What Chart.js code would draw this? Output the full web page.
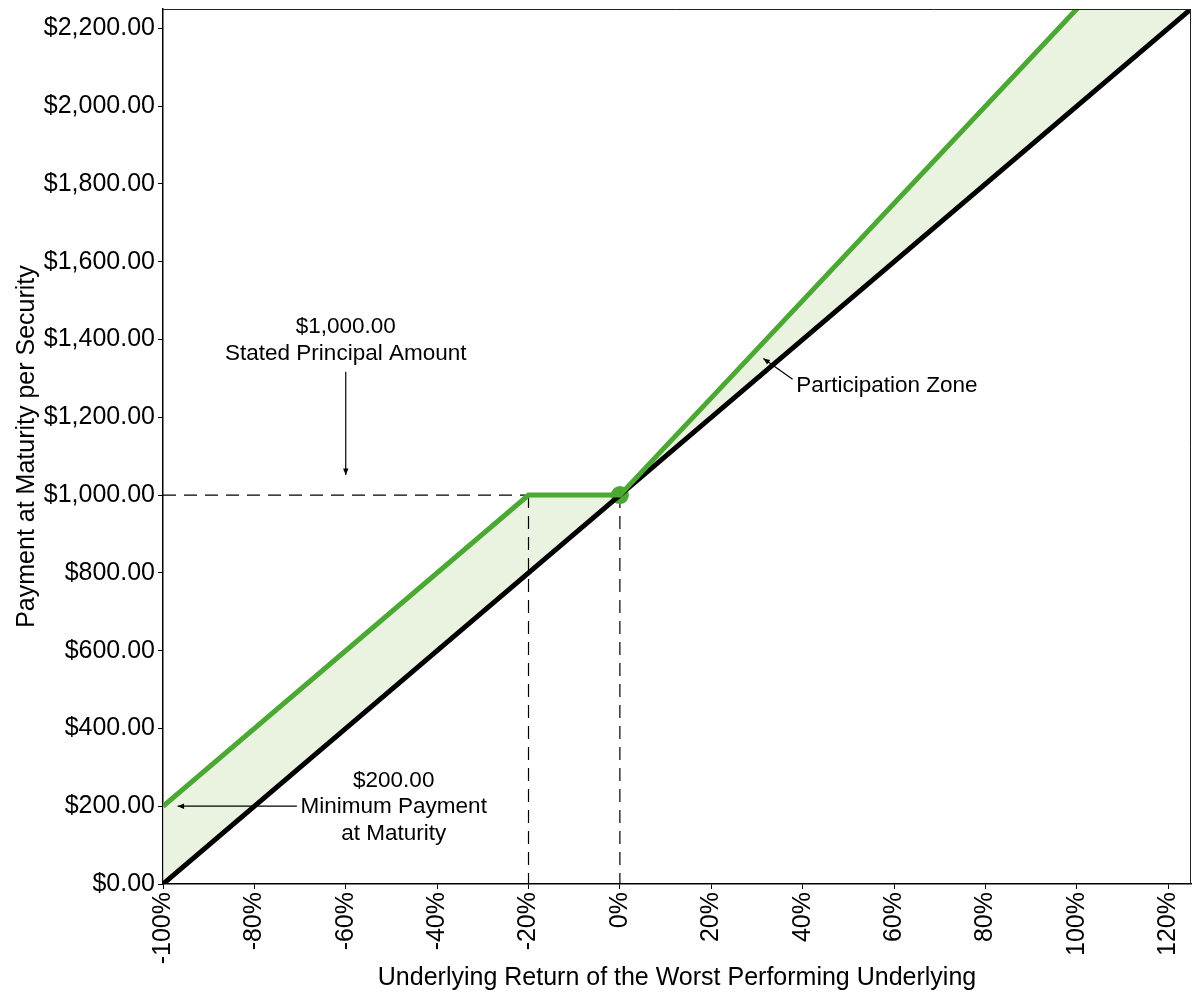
<!DOCTYPE html>
<html>
<head>
<meta charset="utf-8">
<script src="https://cdn.jsdelivr.net/npm/chart.js@4"></script>
<style>
  html, body { margin: 0; padding: 0; background: #fff; }
  #wrap { width: 1200px; height: 1000px; }
</style>
</head>
<body>
<div id="wrap"><canvas id="payoff"></canvas></div>
<script>
// underlying return (%) at the kinks of the payoff
const returnPts = [-100, -20, 0, 125];
// payment at maturity on the securities
const notePayment = [200, 1000, 1000, 2562.5];
// direct investment in the underlying
const underlyingPayment = [0, 800, 1000, 2250];
// guides
const principal = 1000;
const bufferReturn = -20;
const startReturn = 0;

const GREEN = '#4aa833';
const FILL = 'rgba(222,236,208,0.65)';

const toXY = (xs, ys) => xs.map((x, i) => ({ x: x, y: ys[i] }));

// text / arrow annotations (data coordinates)
const notes = [
  { lines: ['$1,000.00', 'Stated Principal Amount'], x: -60, y: 1432, align: 'center' },
  { lines: ['$200.00', 'Minimum Payment', 'at Maturity'], x: -49.5, y: 266, align: 'center' },
  { lines: ['Participation Zone'], x: 38.6, y: 1281, align: 'left' }
];
const arrows = [
  { from: [-60, 1317], to: [-60, 1052] },
  { from: [-70.7, 200], to: [-96.8, 200] },
  { from: [37.8, 1298], to: [31.4, 1351] }
];

const annotate = {
  id: 'annotate',
  afterDraw(chart) {
    const { ctx, chartArea: a, scales: { x, y } } = chart;
    ctx.save();
    // box round the plot
    ctx.strokeStyle = '#222';
    ctx.lineWidth = 1;
    ctx.beginPath();
    ctx.moveTo(a.left, a.top + 0.5);
    ctx.lineTo(a.right - 0.5, a.top + 0.5);
    ctx.lineTo(a.right - 0.5, a.bottom);
    ctx.stroke();

    ctx.fillStyle = '#000';
    ctx.font = '22.5px "Liberation Sans", Arial, sans-serif';
    ctx.textBaseline = 'middle';
    notes.forEach(n => {
      ctx.textAlign = n.align;
      n.lines.forEach((t, i) => {
        ctx.fillText(t, x.getPixelForValue(n.x), y.getPixelForValue(n.y) + i * 26.5);
      });
    });

    ctx.strokeStyle = '#000';
    ctx.lineWidth = 1.2;
    arrows.forEach(ar => {
      const x1 = x.getPixelForValue(ar.from[0]), y1 = y.getPixelForValue(ar.from[1]);
      const x2 = x.getPixelForValue(ar.to[0]), y2 = y.getPixelForValue(ar.to[1]);
      const ang = Math.atan2(y2 - y1, x2 - x1);
      ctx.beginPath();
      ctx.moveTo(x1, y1);
      ctx.lineTo(x2, y2);
      ctx.stroke();
      ctx.beginPath();
      ctx.moveTo(x2, y2);
      ctx.lineTo(x2 - 7 * Math.cos(ang - 0.4), y2 - 7 * Math.sin(ang - 0.4));
      ctx.lineTo(x2 - 7 * Math.cos(ang + 0.4), y2 - 7 * Math.sin(ang + 0.4));
      ctx.closePath();
      ctx.fill();
    });
    ctx.restore();
  }
};

const dashed = {
  borderColor: '#000',
  borderWidth: 1.2,
  borderDash: [13, 8],
  pointRadius: 0,
  fill: false
};

Chart.defaults.font.family = '"Liberation Sans", Arial, sans-serif';
Chart.defaults.color = '#000';

const noPad = s => { s.paddingTop = 0; s.paddingBottom = 0; s.paddingLeft = 0; s.paddingRight = 0; };

new Chart(document.getElementById('payoff'), {
  type: 'line',
  data: {
    datasets: [
      {
        label: 'Securities',
        data: toXY(returnPts, notePayment),
        borderColor: GREEN,
        borderWidth: 5,
        pointRadius: 0,
        fill: { target: 1 },
        backgroundColor: FILL,
        clip: 0
      },
      {
        label: 'Underlying',
        data: toXY(returnPts, underlyingPayment),
        borderColor: '#000',
        borderWidth: 5,
        pointRadius: 0,
        fill: false,
        clip: 0
      },
      {
        label: 'Start',
        data: [{ x: startReturn, y: principal }],
        pointRadius: 9,
        pointBackgroundColor: GREEN,
        pointBorderWidth: 0,
        showLine: false
      },
      Object.assign({ data: [{ x: returnPts[0], y: principal }, { x: bufferReturn, y: principal }] }, dashed),
      Object.assign({ data: [{ x: bufferReturn, y: principal }, { x: bufferReturn, y: 0 }] }, dashed),
      Object.assign({ data: [{ x: startReturn, y: principal }, { x: startReturn, y: 0 }] }, dashed)
    ]
  },
  options: {
    responsive: true,
    maintainAspectRatio: false,
    animation: false,
    layout: { padding: { top: 6, right: 8, left: 0, bottom: 0 } },
    plugins: {
      legend: { display: false },
      tooltip: { enabled: false },
      filler: { drawTime: 'beforeDatasetsDraw' }
    },
    scales: {
      x: {
        type: 'linear',
        min: -100,
        max: 125,
        offset: false,
        grid: { drawOnChartArea: false, drawTicks: true, tickLength: 5, color: '#000' },
        border: { display: true, color: '#000', width: 1.5 },
        ticks: {
          stepSize: 20,
          includeBounds: false,
          minRotation: 90,
          maxRotation: 90,
          padding: 3,
          font: { size: 25 },
          callback: v => v + '%'
        },
        title: {
          display: true,
          text: 'Underlying Return of the Worst Performing Underlying',
          font: { size: 25 },
          padding: { top: 0, bottom: 7 }
        },
        afterFit: s => { s.height = 116; noPad(s); }
      },
      y: {
        min: 0,
        max: 2250,
        grid: { drawOnChartArea: false, drawTicks: true, tickLength: 5, color: '#000' },
        border: { display: true, color: '#000', width: 1.5 },
        ticks: {
          stepSize: 200,
          includeBounds: false,
          padding: 3,
          font: { size: 25 },
          callback: v => '$' + v.toLocaleString('en-US', { minimumFractionDigits: 2, maximumFractionDigits: 2 })
        },
        title: {
          display: true,
          text: 'Payment at Maturity per Security',
          font: { size: 25 },
          padding: { top: 12, bottom: 0 }
        },
        afterFit: s => { s.width = 163; noPad(s); }
      }
    }
  },
  plugins: [annotate]
});
</script>
</body>
</html>
